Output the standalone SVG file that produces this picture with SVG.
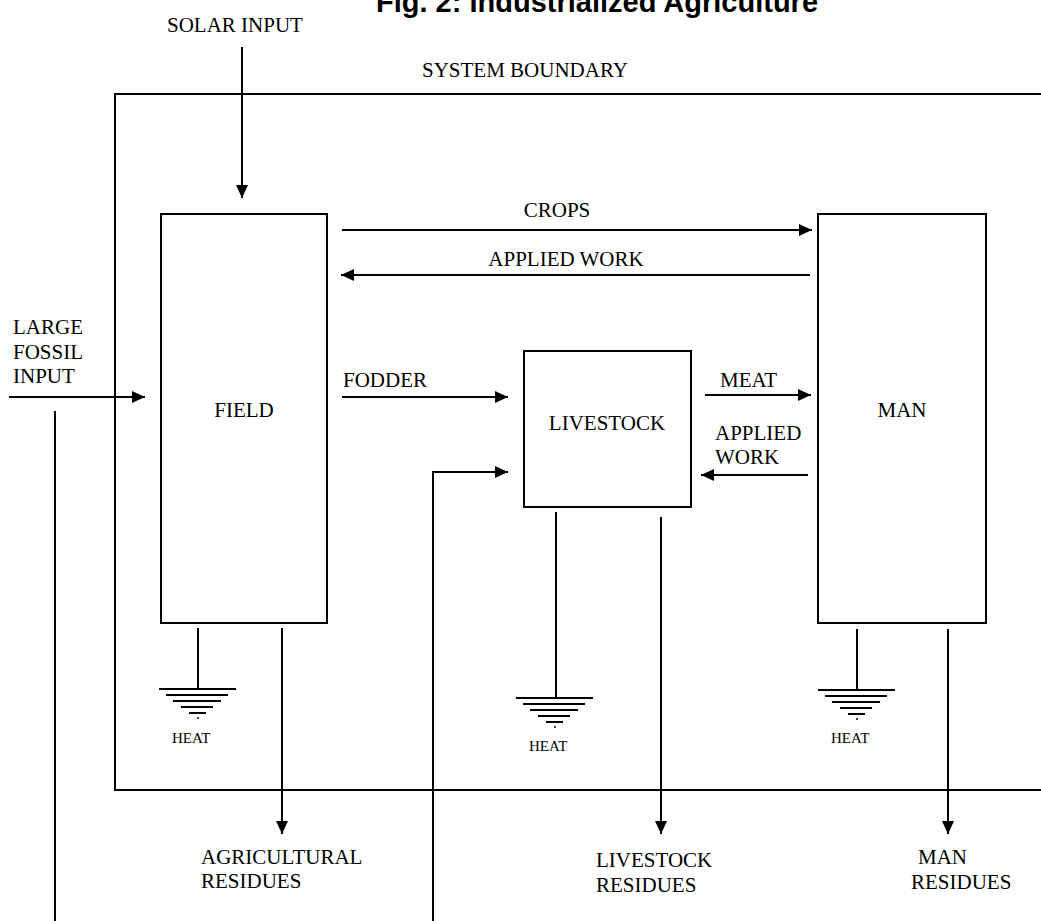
<svg xmlns="http://www.w3.org/2000/svg" width="1041" height="921" viewBox="0 0 1041 921">
<style>
.t{font-family:"Liberation Serif","Times New Roman",serif;font-size:21px;fill:#000}
.h{font-family:"Liberation Serif","Times New Roman",serif;font-size:15px;fill:#000}
.title{font-family:"Liberation Sans",Arial,sans-serif;font-size:29px;font-weight:bold;fill:#000}
.box{fill:#fff;stroke:#000;stroke-width:2}
.ln{fill:none;stroke:#000;stroke-width:2}
.ar{fill:none;stroke:#000;stroke-width:2;marker-end:url(#ah)}
.g{stroke:#000;stroke-width:2}
</style>
<defs>
<marker id="ah" markerUnits="userSpaceOnUse" markerWidth="14" markerHeight="12" refX="13" refY="6" orient="auto">
<path d="M0,0 L13,6 L0,12 z" fill="#000"/>
</marker>
<g id="ground">
<line class="g" x1="-39" y1="0" x2="38" y2="0"/>
<line class="g" x1="-32" y1="6" x2="30" y2="6"/>
<line class="g" x1="-25" y1="12" x2="23" y2="12"/>
<line class="g" x1="-17" y1="18" x2="15" y2="18"/>
<line class="g" x1="-9" y1="24" x2="8" y2="24"/>
<circle cx="0" cy="29" r="1" fill="#000"/>
</g>
</defs>
<rect width="1041" height="921" fill="#fff"/>
<text class="title" x="376" y="12">Fig. 2: Industrialized Agriculture</text>
<g id="boundary">
<rect x="115" y="94" width="1000" height="696" fill="none" stroke="#000" stroke-width="2"/>
<text class="t" x="422" y="77">SYSTEM BOUNDARY</text>
</g>
<g id="field">
<rect class="box" x="161" y="214" width="166" height="409"/>
<text class="t" x="244" y="417" text-anchor="middle">FIELD</text>
</g>
<g id="livestock">
<rect class="box" x="524" y="351" width="167" height="156"/>
<text class="t" x="607" y="430" text-anchor="middle">LIVESTOCK</text>
</g>
<g id="man">
<rect class="box" x="818" y="214" width="168" height="409"/>
<text class="t" x="902" y="417" text-anchor="middle">MAN</text>
</g>
<g id="heat-field">
<line class="g" x1="198" y1="628" x2="198" y2="689"/>
<use href="#ground" x="198" y="689"/>
<text class="h" x="172" y="743">HEAT</text>
</g>
<g id="heat-livestock">
<line class="g" x1="556" y1="512" x2="556" y2="698"/>
<use href="#ground" x="555" y="698"/>
<text class="h" x="529" y="751">HEAT</text>
</g>
<g id="heat-man">
<line class="g" x1="857" y1="629" x2="857" y2="690"/>
<use href="#ground" x="857" y="690"/>
<text class="h" x="831" y="743">HEAT</text>
</g>
<g id="connectors">
<line class="ar" x1="242" y1="47" x2="242" y2="198"/>
<line class="ar" x1="9" y1="397" x2="145" y2="397"/>
<line class="ln" x1="55" y1="411" x2="55" y2="921"/>
<line class="ar" x1="342" y1="230" x2="812" y2="230"/>
<line class="ar" x1="810" y1="275" x2="341" y2="275"/>
<line class="ar" x1="342" y1="397" x2="508" y2="397"/>
<line class="ar" x1="705" y1="395" x2="811" y2="395"/>
<line class="ar" x1="808" y1="475" x2="701" y2="475"/>
<polyline class="ar" points="433,921 433,472 508,472"/>
<line class="ar" x1="282" y1="628" x2="282" y2="834"/>
<line class="ar" x1="661" y1="517" x2="661" y2="834"/>
<line class="ar" x1="948" y1="629" x2="948" y2="834"/>
</g>
<g id="labels">
<text class="t" x="167" y="32">SOLAR INPUT</text>
<text class="t" x="13" y="334">LARGE</text>
<text class="t" x="13" y="359">FOSSIL</text>
<text class="t" x="13" y="383">INPUT</text>
<text class="t" x="557" y="217" text-anchor="middle">CROPS</text>
<text class="t" x="566" y="266" text-anchor="middle">APPLIED WORK</text>
<text class="t" x="343" y="387">FODDER</text>
<text class="t" x="720" y="387">MEAT</text>
<text class="t" x="715" y="440">APPLIED</text>
<text class="t" x="715" y="464">WORK</text>
<text class="t" x="201" y="864">AGRICULTURAL</text>
<text class="t" x="201" y="888">RESIDUES</text>
<text class="t" x="596" y="867">LIVESTOCK</text>
<text class="t" x="596" y="892">RESIDUES</text>
<text class="t" x="918" y="864">MAN</text>
<text class="t" x="911" y="889">RESIDUES</text>
</g>
</svg>
